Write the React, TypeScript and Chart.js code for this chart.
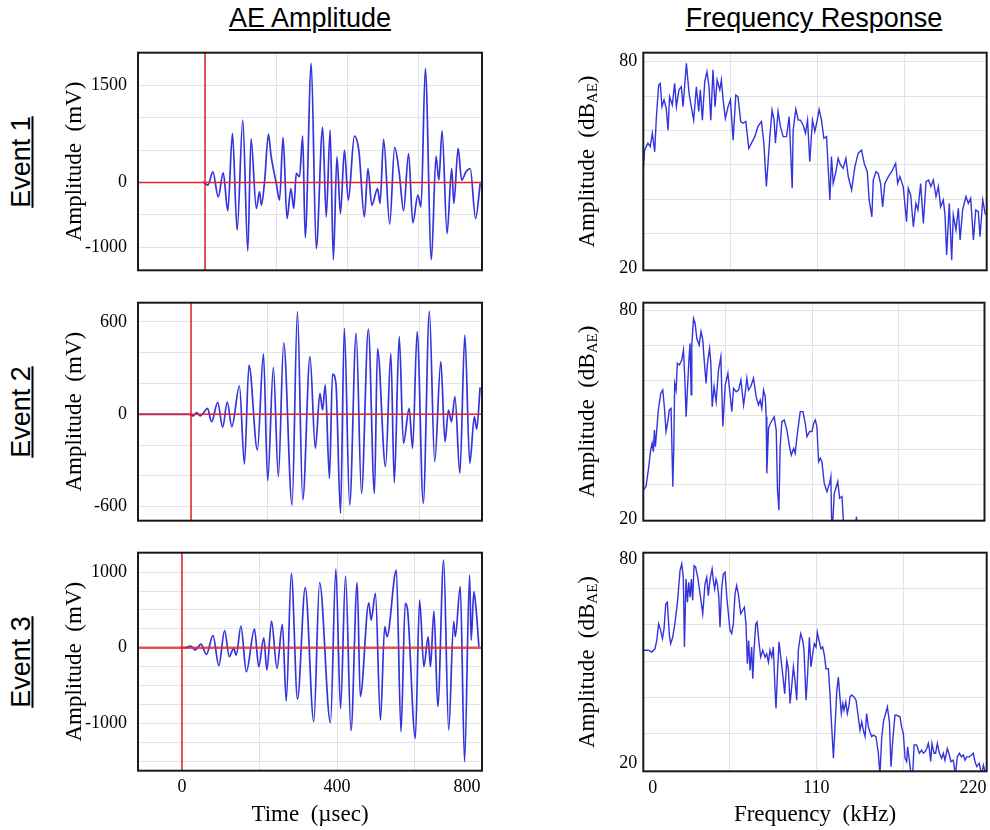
import React, { useEffect, useRef } from "react";
import { Chart, registerables } from "chart.js";
Chart.register(...registerables);

const SERIF = '"Liberation Serif", "Times New Roman", serif';
const SANS = '"Liberation Sans", Arial, sans-serif';

// ---------- AE waveforms (time in µsec, amplitude in mV) ----------
const event1Time = [-6, 8, 22, 37, 51, 64, 77, 90, 106, 120, 129, 144, 153, 158, 167, 178, 185, 200, 209, 219, 230, 241, 249, 256, 265, 274, 281, 298, 312, 330, 340, 351, 360, 370, 380, 391, 402, 419, 432, 447, 457, 468, 484, 491, 501, 518, 532, 545, 557, 571, 583, 597, 606, 618, 635, 648, 656, 665, 679, 692, 698, 710, 720, 732, 744, 759, 772];
const event1Amp = [10, -41, 165, -221, 149, -437, 756, -736, 962, -1055, 674, -401, -144, -350, 10, 746, 422, -15, -273, 694, -556, -93, -401, 139, 87, 715, -849, 1836, -1018, 849, -530, 808, -1188, 396, -478, 499, -273, 715, 473, -530, 216, -350, -93, -324, 664, -643, 540, 139, -437, 447, -622, -195, -375, 1759, -1188, 406, 36, 797, -787, 216, -324, 525, 36, 165, 216, -556, -15];

const event2Time = [-139, -5, 6, 15, 24, 32, 43, 54, 70, 83, 95, 107, 127, 140, 152, 174, 190, 201, 216, 229, 243, 265, 279, 293, 312, 326, 338, 345, 352, 363, 371, 380, 392, 402, 416, 433, 447, 465, 481, 489, 510, 524, 533, 546, 557, 572, 581, 593, 609, 625, 639, 655, 666, 675, 683, 692, 705, 718, 731, 743, 749, 758];
const event2Amp = [0, 0, -11, 11, -11, 6, 39, -48, 78, -84, 80, -80, 184, -323, 320, -232, 392, -431, 305, -405, 465, -589, 667, -556, 375, -221, 136, 28, 191, -416, 262, 201, -643, 559, -589, 526, -513, 554, -513, 427, -340, 396, -444, 504, -188, 39, -221, 537, -578, 669, -307, 342, -178, 28, -48, 115, -383, 515, -318, -15, -97, 175];

const event3Time = [-4, 9, 22, 34, 49, 63, 80, 95, 110, 122, 133, 140, 152, 166, 187, 198, 211, 219, 231, 245, 259, 269, 282, 298, 318, 340, 355, 383, 397, 409, 422, 436, 452, 460, 482, 488, 499, 512, 523, 529, 553, 565, 576, 582, 602, 613, 624, 635, 641, 650, 660, 675, 688, 701, 705, 718, 729, 742, 746, 753, 759, 766];
const event3Amp = [0, 0, 22, -31, 48, -88, 159, -238, 225, -119, -9, -97, 287, -317, 247, -251, 132, -295, 353, -273, 309, -705, 983, -679, 794, -979, 860, -992, 1041, -802, 948, -1098, 860, -648, 595, 366, 719, -957, 278, 145, 1027, -1111, 586, 498, -1199, 630, -251, 145, -251, 485, -780, 1160, -1089, 344, 145, 807, -1508, 961, 101, 741, 498, 13];

// ---------- Frequency responses (kHz, dB_AE) ----------
const event1Freq = [0, 0.8, 2.9, 4.4, 5.7, 7.2, 8.2, 9.7, 10.7, 11.8, 13.1, 14.5, 15.6, 16.6, 18.3, 19.8, 20.9, 22.5, 24.0, 25.1, 27.2, 28.9, 30.3, 31.8, 33.5, 35.0, 36.0, 37.3, 38.8, 40.2, 41.5, 42.6, 44.0, 45.3, 46.6, 48.3, 49.3, 50.4, 51.8, 53.5, 55.0, 56.7, 58.4, 59.8, 61.5, 63.0, 64.7, 66.6, 68.3, 70.4, 72.3, 74.6, 76.1, 77.7, 79.9, 81.3, 82.6, 83.4, 85.1, 86.6, 88.3, 90.4, 92.1, 94.0, 94.6, 96.3, 97.8, 99.2, 100.9, 102.4, 103.7, 105.1, 106.8, 108.3, 109.8, 111.0, 112.5, 114.0, 115.7, 117.8, 118.8, 119.9, 121.6, 123.0, 124.5, 126.2, 127.9, 129.4, 131.5, 133.6, 135.7, 137.8, 139.5, 141.4, 142.6, 144.3, 145.2, 146.9, 148.3, 149.8, 151.1, 152.5, 154.7, 156.8, 159.3, 160.6, 162.0, 164.1, 166.2, 167.3, 168.8, 170.5, 172.1, 173.4, 175.1, 176.8, 178.5, 180.1, 181.6, 183.1, 184.8, 186.3, 187.7, 189.4, 190.5, 191.5, 193.2, 194.7, 195.7, 197.4, 198.9, 200.0, 201.6, 203.7, 205.2, 206.7, 208.4, 209.9, 211.5, 212.6, 214.3, 215.8, 216.8];
const event1Db = [48.5, 54.3, 56.3, 55.3, 59.2, 53.8, 63.5, 73.2, 73.7, 66.9, 68.9, 66.4, 60.1, 69.8, 67.4, 73.7, 66.9, 71.8, 72.7, 66.9, 79.5, 70.8, 66.9, 63.0, 72.7, 65.5, 71.8, 63.0, 74.2, 77.1, 72.7, 63.0, 77.6, 66.9, 74.7, 71.8, 74.7, 68.9, 63.5, 66.9, 68.9, 57.2, 70.3, 69.8, 62.6, 62.1, 62.6, 54.8, 56.3, 58.2, 61.1, 62.6, 56.3, 43.7, 58.2, 65.9, 63.0, 56.3, 65.5, 61.1, 58.2, 58.2, 64.0, 43.2, 60.1, 66.2, 63.0, 63.0, 61.6, 59.2, 63.0, 50.9, 63.0, 59.7, 63.0, 66.1, 63.0, 57.7, 58.2, 39.8, 52.4, 44.6, 48.0, 51.9, 50.0, 49.0, 51.9, 46.6, 42.7, 49.5, 53.4, 54.3, 50.4, 48.0, 39.8, 34.9, 45.6, 48.0, 47.5, 44.6, 37.8, 44.6, 46.6, 48.0, 50.4, 44.6, 46.6, 43.7, 33.5, 43.2, 41.2, 32.0, 38.8, 36.9, 44.6, 33.0, 45.1, 45.6, 43.7, 45.6, 40.8, 43.7, 37.8, 39.8, 35.4, 23.8, 38.8, 22.3, 35.4, 31.1, 37.4, 28.2, 36.9, 40.8, 38.8, 40.3, 28.2, 36.9, 36.4, 29.1, 39.8, 35.9, 35.4];

const event2Freq = [2.4, 4.1, 5.6, 7.1, 8.0, 8.8, 9.5, 10.1, 12.0, 13.5, 14.8, 15.8, 16.9, 18.0, 19.0, 20.1, 21.2, 21.8, 22.4, 23.3, 24.1, 25.4, 26.9, 28.0, 28.8, 29.7, 30.5, 31.6, 32.2, 32.9, 33.3, 34.4, 35.4, 36.5, 38.0, 39.2, 40.3, 41.2, 42.4, 43.3, 44.6, 45.4, 46.3, 47.5, 48.8, 50.3, 51.8, 53.1, 54.6, 56.3, 58.8, 59.9, 61.6, 63.1, 64.6, 66.3, 67.3, 68.4, 69.4, 70.9, 72.6, 74.3, 75.8, 76.9, 77.9, 79.0, 80.1, 80.7, 81.1, 82.2, 83.3, 85.8, 87.1, 87.9, 88.8, 89.6, 90.7, 92.2, 93.9, 95.6, 96.7, 98.2, 99.2, 100.3, 102.4, 104.1, 105.6, 106.7, 108.4, 109.9, 110.9, 112.0, 113.0, 114.1, 115.2, 116.2, 117.7, 119.4, 121.1, 121.9, 122.6, 124.1, 126.3, 127.5, 129.0, 130.5, 136.5, 138.2, 139.9, 160.0, 219.8];
const event2Db = [28.5, 29.4, 34.2, 40.0, 41.9, 39.5, 45.7, 40.9, 51.5, 56.2, 57.2, 52.4, 45.3, 48.1, 51.5, 51.9, 29.4, 40.0, 59.1, 57.2, 64.9, 64.4, 65.8, 68.7, 61.0, 49.5, 57.2, 66.8, 70.6, 55.8, 70.1, 77.8, 76.4, 72.0, 70.1, 74.0, 71.6, 65.8, 59.1, 64.9, 69.2, 65.3, 52.4, 58.2, 53.9, 62.9, 66.8, 46.7, 58.6, 62.0, 51.0, 57.7, 56.7, 57.2, 60.1, 52.9, 56.2, 60.6, 57.2, 58.2, 60.6, 55.3, 52.9, 54.3, 51.9, 57.2, 55.3, 49.5, 33.3, 46.2, 47.6, 49.5, 45.7, 28.5, 22.7, 40.9, 48.1, 48.6, 45.7, 40.9, 38.5, 40.4, 39.0, 43.8, 51.0, 51.0, 47.6, 43.8, 45.3, 45.3, 47.6, 48.6, 46.7, 36.6, 37.6, 36.6, 30.4, 28.0, 30.4, 32.3, 15.0, 27.5, 30.9, 26.1, 26.6, 15.0, 13.0, 20.8, 13.0, 12.0, 12.0];

const event3Freq = [0.6, 3.8, 5.9, 8.0, 9.1, 10.3, 11.6, 12.7, 13.7, 14.8, 15.8, 17.1, 17.9, 19.2, 20.7, 22.2, 23.8, 24.9, 25.9, 26.6, 27.6, 28.5, 29.3, 30.2, 31.0, 31.8, 32.7, 33.7, 35.0, 36.5, 38.2, 39.6, 40.7, 41.7, 42.8, 44.1, 44.9, 45.7, 46.6, 47.4, 48.3, 49.1, 50.2, 51.2, 52.3, 53.3, 54.4, 55.4, 56.5, 57.5, 58.6, 59.6, 60.7, 62.2, 63.4, 64.5, 65.5, 66.4, 67.2, 68.1, 69.1, 69.8, 70.6, 71.7, 72.5, 73.6, 74.8, 76.1, 77.6, 78.6, 79.7, 80.7, 81.8, 82.8, 83.9, 84.5, 85.4, 86.4, 87.5, 88.7, 90.0, 91.3, 92.3, 93.4, 94.4, 95.5, 96.5, 97.6, 98.6, 100.1, 101.4, 102.2, 103.5, 104.5, 105.6, 106.6, 107.7, 108.7, 109.8, 110.6, 111.7, 112.9, 114.0, 115.1, 116.1, 117.6, 118.6, 119.7, 120.8, 121.8, 122.9, 123.9, 125.0, 125.8, 126.7, 127.5, 128.6, 129.6, 130.5, 131.3, 132.3, 133.8, 135.1, 136.5, 137.6, 138.7, 139.7, 140.8, 141.8, 142.9, 143.9, 145.0, 146.0, 147.7, 149.2, 150.2, 151.3, 152.4, 153.8, 154.9, 156.2, 157.2, 158.3, 159.7, 160.8, 162.9, 163.9, 165.0, 166.1, 167.1, 167.7, 168.8, 169.9, 170.9, 171.8, 173.4, 175.1, 176.6, 177.6, 178.7, 179.8, 180.8, 181.4, 182.3, 183.1, 184.4, 185.4, 186.5, 187.8, 189.2, 190.3, 191.3, 192.8, 194.1, 195.1, 196.6, 197.9, 199.1, 200.4, 201.7, 202.9, 204.0, 205.0, 206.7, 208.2, 209.2, 210.3, 211.4, 213.0, 214.5, 215.6, 217.3];
const event3Db = [53.0, 53.0, 52.5, 53.4, 55.7, 60.3, 58.5, 56.2, 58.9, 65.8, 66.3, 57.1, 54.8, 56.6, 60.8, 66.3, 75.0, 76.9, 73.2, 53.9, 72.7, 66.3, 71.8, 67.7, 72.7, 66.8, 76.4, 76.0, 73.2, 68.6, 63.1, 71.4, 73.2, 68.1, 72.7, 75.5, 72.3, 70.0, 72.7, 71.4, 68.1, 59.4, 70.4, 74.1, 74.6, 68.1, 63.1, 58.5, 57.6, 60.3, 68.6, 70.9, 68.6, 63.1, 64.0, 64.9, 60.3, 49.3, 55.7, 47.4, 53.9, 45.1, 53.0, 60.3, 60.8, 55.7, 51.1, 53.0, 51.1, 52.0, 49.7, 53.0, 51.1, 53.9, 41.9, 36.9, 46.5, 55.3, 51.1, 46.5, 41.0, 50.2, 47.9, 38.3, 42.9, 48.4, 44.7, 39.2, 53.0, 57.6, 55.7, 53.0, 39.2, 46.5, 56.6, 48.4, 52.0, 54.8, 53.9, 58.0, 55.7, 53.4, 53.9, 51.6, 47.9, 47.9, 41.0, 31.8, 23.1, 31.8, 41.5, 45.6, 39.6, 35.5, 38.3, 36.4, 38.7, 35.5, 37.3, 40.1, 40.6, 40.1, 39.2, 34.6, 30.9, 33.2, 30.9, 29.1, 35.5, 31.8, 30.4, 29.1, 29.5, 29.1, 24.5, 18.5, 28.6, 33.2, 35.5, 37.3, 33.2, 20.8, 28.1, 35.0, 35.0, 34.6, 31.8, 30.0, 23.1, 22.2, 26.3, 22.6, 18.5, 18.5, 26.8, 26.8, 24.5, 25.4, 24.5, 24.9, 25.8, 27.2, 25.8, 22.2, 27.2, 24.5, 24.5, 27.2, 24.5, 23.1, 24.5, 22.6, 25.8, 24.0, 22.2, 22.6, 18.5, 23.5, 24.5, 23.5, 24.0, 22.6, 23.5, 23.5, 24.0, 24.5, 22.2, 20.8, 21.7, 18.5, 21.2, 18.5];

// ---------- Ticks ----------
const timeGrid = [0, 200, 400, 600];
const timeTicksBottom = [0, 200, 400, 600, 735];
const timeLabelsBottom = ["0", "", "400", "", "800"];
const freqGrid = [55, 110, 165];
const freqTicksBottom = [6.6, 55, 110, 165, 209];
const freqLabelsBottom = ["0", "", "110", "", "220"];
const amp1Ticks = [-1000, -500, 0, 500, 1000, 1500];
const amp1Labels = ["-1000", "", "0", "", "", "1500"];
const amp2Ticks = [-600, -400, -200, 0, 200, 400, 600];
const amp2Labels = ["-600", "", "", "0", "", "", "600"];
const amp3Ticks = [-1500, -1250, -1000, -750, -500, -250, 0, 250, 500, 750, 1000];
const amp3Labels = ["", "", "-1000", "", "", "", "0", "", "", "", "1000"];
const dbTicks = [20, 30, 40, 50, 60, 70, 80];
const dbLabels = ["20", "", "", "", "", "", "80"];
const dbTicks3 = [21.6, 30, 40, 50, 60, 70, 78.2];
const dbLabels3 = ["20", "", "", "", "", "", "80"];

const columnTitles = ["AE Amplitude", "Frequency Response"];
const eventLabels = ["Event 1", "Event 2", "Event 3"];
const ampTitle = "Amplitude  (mV)";
const dbTitleMain = "Amplitude  (dB";
const dbTitleSub = "AE";
const timeTitle = "Time  (\u00b5sec)";
const freqTitle = "Frequency  (kHz)";

type Spec = {
  left: number; top: number; w: number; h: number;
  padTop: number; padRight: number; yWidth: number; xHeight: number;
  xMin: number; xMax: number; xTicks: number[]; xLabels: string[] | null; xNoGrid: number[];
  yMin: number; yMax: number; yTicks: number[]; yLabels: string[]; yNoGrid: number[];
  xs: number[]; ys: number[]; wave: boolean; redWidth: number;
  yTitle: "mV" | "dB"; xTitle?: string; yPad: number;
};

const specs: Spec[] = [
  { left: 50, top: 40, w: 445, h: 240, padTop: 12.7, padRight: 13, yWidth: 88, xHeight: 9.7,
    xMin: -188, xMax: 777, xTicks: timeGrid, xLabels: null, xNoGrid: [],
    yMin: -1353, yMax: 2000, yTicks: amp1Ticks, yLabels: amp1Labels, yNoGrid: [],
    xs: event1Time, ys: event1Amp, wave: true, redWidth: 1.5, yTitle: "mV", yPad: 11 },
  { left: 50, top: 290, w: 445, h: 240, padTop: 12.7, padRight: 13, yWidth: 88, xHeight: 9.3,
    xMin: -139, xMax: 763, xTicks: timeGrid, xLabels: null, xNoGrid: [],
    yMin: -691, yMax: 725, yTicks: amp2Ticks, yLabels: amp2Labels, yNoGrid: [],
    xs: event2Time, ys: event2Amp, wave: true, redWidth: 1.5, yTitle: "mV", yPad: 11 },
  { left: 50, top: 540, w: 445, h: 290, padTop: 12.7, padRight: 13, yWidth: 88, xHeight: 59.3,
    xMin: -113.5, xMax: 774, xTicks: timeTicksBottom, xLabels: timeLabelsBottom, xNoGrid: [735],
    yMin: -1627, yMax: 1257, yTicks: amp3Ticks, yLabels: amp3Labels, yNoGrid: [],
    xs: event3Time, ys: event3Amp, wave: true, redWidth: 2.5, yTitle: "mV", xTitle: timeTitle, yPad: 11 },
  { left: 555, top: 40, w: 435, h: 240, padTop: 12.7, padRight: 3.3, yWidth: 88.3, xHeight: 9.7,
    xMin: 0, xMax: 216.8, xTicks: freqGrid, xLabels: null, xNoGrid: [],
    yMin: 19.36, yMax: 82.6, yTicks: dbTicks, yLabels: dbLabels, yNoGrid: [20],
    xs: event1Freq, ys: event1Db, wave: false, redWidth: 0, yTitle: "dB", yPad: 6 },
  { left: 555, top: 290, w: 435, h: 240, padTop: 12.7, padRight: 5.5, yWidth: 88.3, xHeight: 9.3,
    xMin: 2.4, xMax: 219.8, xTicks: freqGrid, xLabels: null, xNoGrid: [],
    yMin: 19.65, yMax: 82.3, yTicks: dbTicks, yLabels: dbLabels, yNoGrid: [20],
    xs: event2Freq, ys: event2Db, wave: false, redWidth: 0, yTitle: "dB", yPad: 6 },
  { left: 555, top: 540, w: 435, h: 290, padTop: 12.7, padRight: 3.3, yWidth: 88.3, xHeight: 58.7,
    xMin: 0.6, xMax: 217.7, xTicks: freqTicksBottom, xLabels: freqLabelsBottom, xNoGrid: [6.6, 209],
    yMin: 19.5, yMax: 80, yTicks: dbTicks3, yLabels: dbLabels3, yNoGrid: [21.6, 78.2],
    xs: event3Freq, ys: event3Db, wave: false, redWidth: 0, yTitle: "dB", xTitle: freqTitle, yPad: 6 },
];

const GRID = "#e3e3e3";
const BLUE = "rgb(52,52,222)";
const RED = "rgb(228,32,32)";

const framePlugin = {
  id: "frame",
  afterDatasetsDraw(chart: any) {
    const { ctx, chartArea: a } = chart;
    ctx.save();
    ctx.strokeStyle = "#1a1a1a";
    ctx.lineWidth = 2;
    ctx.strokeRect(a.left, a.top, a.right - a.left, a.bottom - a.top);
    ctx.restore();
  },
};

function dbTitlePlugin(x: number) {
  return {
    id: "dbTitle",
    afterDraw(chart: any) {
      const { ctx, chartArea } = chart;
      const cy = (chartArea.top + chartArea.bottom) / 2;
      const big = `23px ${SERIF}`;
      const small = `15px ${SERIF}`;
      ctx.save();
      ctx.translate(x, cy);
      ctx.rotate(-Math.PI / 2);
      ctx.fillStyle = "#000";
      ctx.textBaseline = "middle";
      ctx.textAlign = "left";
      ctx.font = big;
      const w1 = ctx.measureText(dbTitleMain).width;
      const w3 = ctx.measureText(")").width;
      ctx.font = small;
      const w2 = ctx.measureText(dbTitleSub).width;
      let px = -(w1 + w2 + w3) / 2;
      ctx.font = big;
      ctx.fillText(dbTitleMain, px, 0);
      px += w1;
      ctx.font = small;
      ctx.fillText(dbTitleSub, px, 5);
      px += w2;
      ctx.font = big;
      ctx.fillText(")", px, 0);
      ctx.restore();
    },
  };
}

function Panel({ s }: { s: Spec }) {
  const ref = useRef<HTMLCanvasElement | null>(null);
  useEffect(() => {
    if (!ref.current) return;
    const datasets: any[] = [];
    if (s.wave) {
      datasets.push({
        data: [{ x: s.xMin, y: 0 }, { x: s.xMax, y: 0 }],
        borderColor: s.redWidth > 2 ? "rgba(228,40,40,0.8)" : RED,
        borderWidth: s.redWidth, pointRadius: 0,
      });
      datasets.push({
        data: [{ x: 0, y: s.yMin }, { x: 0, y: s.yMax }],
        borderColor: RED, borderWidth: 1.5, pointRadius: 0,
      });
    }
    datasets.push({
      data: s.xs.map((x, i) => ({ x, y: s.ys[i] })),
      borderColor: BLUE,
      borderWidth: s.wave ? 1.7 : 1.4,
      pointRadius: 0,
      cubicInterpolationMode: s.wave ? "monotone" : "default",
      tension: 0,
    });
    const gridColor = (noGrid: number[]) => (ctx: any) =>
      ctx.tick && noGrid.includes(ctx.tick.value) ? "rgba(0,0,0,0)" : GRID;
    const plugins: any[] = [framePlugin];
    if (s.yTitle === "dB") plugins.push(dbTitlePlugin(33));
    const chart = new Chart(ref.current, {
      type: "line",
      data: { datasets },
      plugins,
      options: {
        responsive: false,
        maintainAspectRatio: false,
        animation: false,
        layout: { padding: { top: s.padTop, right: s.padRight, bottom: 0, left: 0 } },
        plugins: { legend: { display: false }, tooltip: { enabled: false } },
        elements: { point: { radius: 0 } },
        scales: {
          x: {
            type: "linear",
            min: s.xMin,
            max: s.xMax,
            afterBuildTicks: (scale: any) => { scale.ticks = s.xTicks.map((v) => ({ value: v })); },
            afterFit: (scale: any) => {
              scale.height = s.xHeight;
              scale.paddingLeft = 0; scale.paddingRight = 0;
              scale.paddingTop = 0; scale.paddingBottom = 0;
            },
            grid: { color: gridColor(s.xNoGrid), lineWidth: 1, drawTicks: false },
            border: { display: false },
            ticks: {
              display: !!s.xLabels,
              autoSkip: false,
              maxRotation: 0,
              padding: 6,
              color: "#000",
              font: { family: SERIF, size: 18 },
              callback: (v: any) => {
                const i = s.xTicks.indexOf(Number(v));
                return s.xLabels && i >= 0 ? s.xLabels[i] : "";
              },
            },
            title: {
              display: !!s.xTitle,
              text: s.xTitle || "",
              color: "#000",
              font: { family: SERIF, size: 23 },
              padding: { top: 0, bottom: 1.5 },
            },
          },
          y: {
            type: "linear",
            min: s.yMin,
            max: s.yMax,
            afterBuildTicks: (scale: any) => { scale.ticks = s.yTicks.map((v) => ({ value: v })); },
            afterFit: (scale: any) => {
              scale.width = s.yWidth;
              scale.paddingLeft = 0; scale.paddingRight = 0;
              scale.paddingTop = 0; scale.paddingBottom = 0;
            },
            grid: { color: gridColor(s.yNoGrid), lineWidth: 1, drawTicks: false },
            border: { display: false },
            ticks: {
              autoSkip: false,
              padding: s.yPad,
              color: "#000",
              font: { family: SERIF, size: 18 },
              callback: (v: any) => {
                const i = s.yTicks.indexOf(Number(v));
                return i >= 0 ? s.yLabels[i] : "";
              },
            },
            title: {
              display: s.yTitle === "mV",
              text: ampTitle,
              color: "#000",
              font: { family: SERIF, size: 23 },
              padding: { top: 11.2, bottom: 0 },
            },
          },
        },
      } as any,
    });
    return () => chart.destroy();
  }, [s]);
  return (
    <canvas
      ref={ref}
      width={s.w}
      height={s.h}
      style={{ position: "absolute", left: s.left, top: s.top, width: s.w, height: s.h, display: "block" }}
    />
  );
}

const eventCenters = [161.5, 411.7, 661.7];
const titleCenters = [310, 814];

export default function App() {
  useEffect(() => {
    document.body.style.margin = "0";
  }, []);
  const labelStyle: React.CSSProperties = {
    position: "absolute",
    font: `27px ${SANS}`,
    lineHeight: "27px",
    textDecoration: "underline",
    whiteSpace: "nowrap",
    color: "#000",
  };
  return (
    <div style={{ position: "fixed", left: 0, top: 0, width: 990, height: 830, background: "#fff", overflow: "hidden" }}>
      {columnTitles.map((t, i) => (
        <div key={t} style={{ ...labelStyle, left: titleCenters[i], top: 5, transform: "translateX(-50%)" }}>{t}</div>
      ))}
      {eventLabels.map((t, i) => (
        <div key={t} style={{ ...labelStyle, left: 21, top: eventCenters[i], transform: "translate(-50%,-50%) rotate(-90deg)" }}>{t}</div>
      ))}
      {specs.map((s, i) => (
        <Panel key={i} s={s} />
      ))}
    </div>
  );
}
